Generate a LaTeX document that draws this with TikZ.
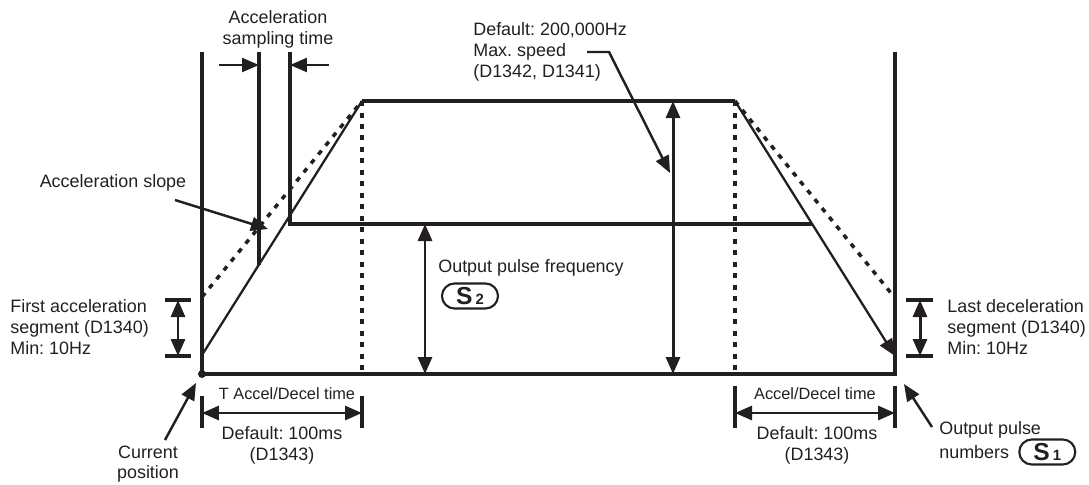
\documentclass[tikz,border=0pt]{standalone}
\usepackage{fontspec}
\setmainfont{Liberation Sans}
\usetikzlibrary{arrows.meta, positioning}
\definecolor{ink}{RGB}{35,31,32}
\newcommand{\pulsereg}[2]{{\fontsize{14}{14}\selectfont\bfseries #1}\,{\fontsize{8.5}{8.5}\selectfont\bfseries #2}}
\frenchspacing

\begin{document}
\begin{tikzpicture}[
  x=0.02cm, y=-0.02cm,
  >={Triangle[length=0.34cm, width=0.28cm]},
  txt/.style={font=\fontsize{10.2}{11.8}\selectfont, text=ink, inner sep=0pt, align=left},
  ctxt/.style={txt, align=center},
  small/.style={txt, font=\fontsize{9.3}{11}\selectfont, align=center},
  wall/.style={draw=ink, line width=2pt},
  ramp/.style={draw=ink, line width=1.3pt},
  dots/.style={draw=ink, line width=2pt, dash pattern=on 0.1cm off 0.13cm},
  arrow/.style={->, color=ink, line width=1.4pt},
  dim/.style={<->, color=ink, line width=1.7pt},
  param/.style={draw=ink, line width=1.2pt, rounded corners=0.25cm, minimum width=1.12cm, minimum height=0.5cm, inner sep=0pt, text=ink}
]
\useasboundingbox (0,0) rectangle (1089,484);

% profile
\coordinate (org) at (202,374);
\coordinate (end) at (895,374);
\coordinate (lwall) at (202,52);
\coordinate (rwall) at (895,52);
\coordinate (topl) at (362,101);
\coordinate (topr) at (735,101);
\coordinate (rs) at (202,355);
\coordinate (ds) at (202,297);
\coordinate (de) at (895,298);
\coordinate (re) at (895,356);

\draw[wall] (lwall) -- (org) -- (end) -- (rwall);
\fill[ink] (org) circle (0.08cm);
\draw[wall] (topl) -- (topr);
\draw[dots] (topl) -- (topl |- org);
\draw[dots] (topr) -- (topr |- org);
\draw[dots] (ds) -- (topl);
\draw[dots] (topr) -- (de);
\draw[ramp] (rs) -- (topl);
\draw[ramp, ->] (topr) -- (re);

% sampling time
\coordinate (smp1) at (259,52);
\coordinate (smp2) at (290,52);
\coordinate (cut1) at (259,265);
\coordinate (cut2) at (290,224);
\coordinate (half) at (812,224);
\draw[wall] (smp1) -- (cut1);
\draw[wall] (smp2) -- (cut2) -- (half);

\node[ctxt] (samp) at (278,29) {Acceleration\\sampling time};
\coordinate (sa) at (219,65);
\coordinate (sb) at (329,65);
\draw[arrow] (sa) -- (sa -| smp1);
\draw[arrow] (sb) -- (sb -| smp2);

\node[txt] (slope) at (113,183) {Acceleration slope};
\coordinate (slt) at (175,200);
\coordinate (sl) at (268,229);
\draw[arrow] (slt) -- (sl);

% max speed
\node[txt, anchor=west] (maxs) at (473,52) {Default: 200,000Hz\\Max. speed\\(D1342, D1341)};
\coordinate (msa) at (587,52);
\coordinate (msb) at (609,52);
\coordinate (mst) at (670,173);
\draw[arrow] (msa) -- (msb) -- (mst);
\coordinate (vmax) at (673,101);
\draw[dim] (vmax) -- (vmax |- org);

% output frequency
\coordinate (vout) at (425,224);
\draw[dim] (vout) -- (vout |- org);
\node[txt, anchor=west] (freq) at (438,268) {Output pulse frequency};
\node[param] (s2) at (470,296) {\pulsereg{S}{2}};

% first / last segment
\node[txt, anchor=west] (first) at (10,327) {First acceleration\\segment (D1340)\\Min: 10Hz};
\coordinate (fa) at (165,300);
\coordinate (fb) at (165,356);
\draw[wall] (fa) -- ++(26,0);
\draw[wall] (fb) -- ++(26,0);
\draw[dim] ([xshift=0.26cm]fa) -- ([xshift=0.26cm]fb);

\node[txt, anchor=west] (last) at (947,327) {Last deceleration\\segment (D1340)\\Min: 10Hz};
\coordinate (la) at (906,300);
\coordinate (lb) at (906,356);
\draw[wall] (la) -- ++(27,0);
\draw[wall] (lb) -- ++(27,0);
\draw[dim] ([xshift=0.28cm]la) -- ([xshift=0.28cm]lb);

% current position
\node[ctxt] (cur) at (148,464) {Current\\position};
\coordinate (cp) at (165,440);
\coordinate (cpt) at (196,383);
\draw[arrow] (cp) -- (cpt);

% accel / decel time
\coordinate (lt1) at (202,396);
\coordinate (lt2) at (362,396);
\draw[wall] (lt1) -- ++(0,32);
\draw[wall] (lt2) -- ++(0,32);
\draw[dim] ([yshift=-0.34cm]lt1) -- ([yshift=-0.34cm]lt2);
\node[small] (ltime) at (287,394) {T Accel/Decel time};
\node[ctxt] (ldef) at (282,445) {Default: 100ms\\(D1343)};

\coordinate (rt1) at (735,386);
\coordinate (rt2) at (895,386);
\draw[wall] (rt1) -- ++(0,42);
\draw[wall] (rt2) -- ++(0,42);
\draw[dim] ([yshift=-0.54cm]rt1) -- ([yshift=-0.54cm]rt2);
\node[small] (rtime) at (815,394) {Accel/Decel time};
\node[ctxt] (rdef) at (817,445) {Default: 100ms\\(D1343)};

% output pulse numbers
\coordinate (op) at (932,427);
\coordinate (opt) at (904,384);
\draw[arrow] (op) -- (opt);
\node[txt, anchor=west] (outp) at (939,430) {Output pulse};
\node[txt, anchor=west] (numb) at (939,452) {numbers};
\node[param, right=5pt of numb] (s1) {\pulsereg{S}{1}};

\end{tikzpicture}
\end{document}
